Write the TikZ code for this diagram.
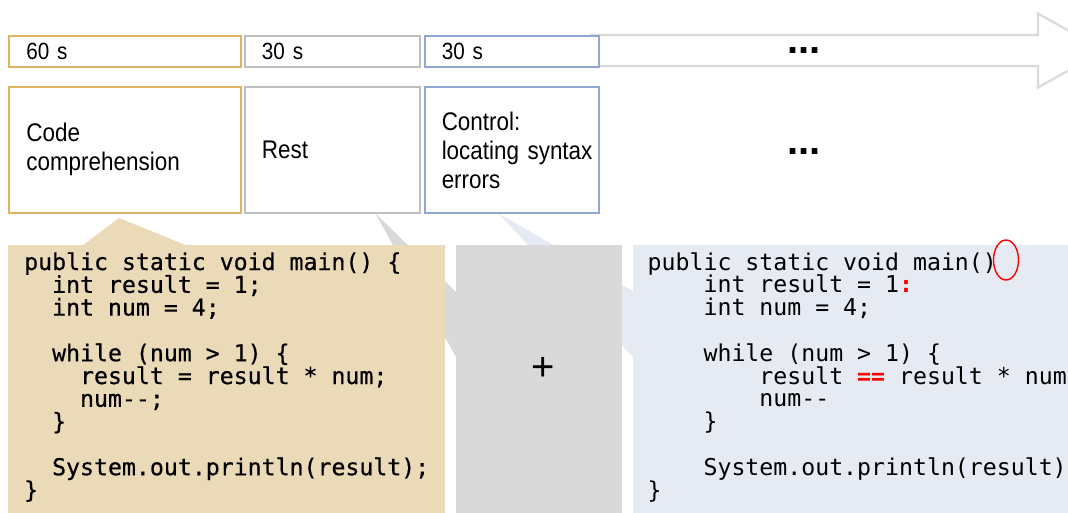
\documentclass[tikz,border=0pt]{standalone}
\usepackage{fontspec}
\usetikzlibrary{shapes.geometric}

% fonts: narrow sans for the labels, mono for the code listings
\newfontfamily\labfont[FakeStretch=0.88]{Liberation Sans}
\newfontfamily\symfont{Liberation Sans}
\newfontfamily\codefont{DejaVu Sans Mono}
\newfontfamily\codefontb[FakeBold=0.6]{DejaVu Sans Mono}

% one column of the mono font
\newlength\cw
\setlength\cw{13.968pt}
\newcommand\ind[1]{\hspace*{#1\cw}}
\newcommand\dd{\hbox{-}\hbox{-}}
\newcommand\codesetup{\fontsize{23.2}{22.8}\selectfont\baselineskip=22.8pt\lineskiplimit=-100pt}

\definecolor{goldline}{HTML}{DEB462}
\definecolor{grayline}{HTML}{BFBFBF}
\definecolor{blueline}{HTML}{8FA6D4}
\definecolor{tanfill}{HTML}{EBDAB7}
\definecolor{grayfill}{HTML}{D9D9D9}
\definecolor{bluefill}{HTML}{E6EAF3}
\definecolor{arrowgray}{HTML}{DADADA}

\tikzset{
  tbox/.style={draw, line width=2.1pt, fill=white, anchor=north west,
    inner xsep=17pt, inner ysep=0pt, minimum width=#1, text width=#1-34pt,
    align=left},
  timebox/.style={tbox=#1, minimum height=31.2pt,
    font=\labfont\fontsize{23.5}{27}\selectfont},
  taskbox/.style={tbox=#1, minimum height=125.7pt,
    font=\labfont\fontsize{25.5}{29}\selectfont},
  panel/.style={draw=none, anchor=north west, inner sep=0pt, minimum height=280pt},
  codetext/.style={anchor=base west, inner sep=0pt},
  dots/.style={font=\symfont\bfseries\fontsize{40}{40}\selectfont, inner sep=0pt},
  timeline/.style={draw=arrowgray, line width=2.2pt, line join=miter},
}

\begin{document}
\begin{tikzpicture}[x=1pt, y=-1pt]
\useasboundingbox (0,0) rectangle (1068,512);
\clip (0,0) rectangle (1068,512);

% timeline arrow behind the time slots
\draw[timeline] (590,35) -- (1038,35) -- (1038,13.5) -- (1104,50.5)
  -- (1038,87.5) -- (1038,66) -- (590,66);

% callout wedges from the task boxes to the panels
\fill[grayfill] (375,213) -- (456,292) -- (456,357) -- cycle;
\fill[bluefill] (498,213) -- (633,291) -- (633,357) -- cycle;
\fill[tanfill] (82,246) -- (119,218) -- (188,246) -- cycle;

% time slots
\node[timebox=232pt, draw=goldline] (t1) at (8.3,34.5) {60 s};
\node[timebox=174.6pt, draw=grayline] (t2) at (243.9,34.5) {30 s};
\node[timebox=174pt, draw=blueline] (t3) at (423.7,34.5) {30 s};
\node[dots] (tdots) at (804,50.5) {...};

% task boxes
\node[taskbox=232pt, draw=goldline] (b1) at (8.3,86) {\mbox{Code}\\\mbox{comprehension}};
\node[taskbox=174.6pt, draw=grayline] (b2) at (243.9,86) {Rest};
\node[taskbox=174pt, draw=blueline] (b3) at (423.7,86) {\mbox{Control:}\\\mbox{locating syntax}\\\mbox{errors}};
\node[dots] (bdots) at (804,151.7) {...};

% panels
\node[panel, fill=tanfill, minimum width=437pt] (pA) at (8,245) {};
\node[panel, fill=grayfill, minimum width=166pt] (pB) at (456,245) {};
\node[panel, fill=bluefill, minimum width=440pt] (pC) at (633,245) {};

% comprehension snippet
\node[codetext] (codeA) at (24,270) {\vtop{\codefontb\codesetup
  \hbox{public static void main() \{}
  \hbox{\ind{2}int result = 1;}
  \hbox{\ind{2}int num = 4;}
  \hbox{}
  \hbox{\ind{2}while (num > 1) \{}
  \hbox{\ind{4}result = result * num;}
  \hbox{\ind{4}num\dd;}
  \hbox{\ind{2}\}}
  \hbox{}
  \hbox{\ind{2}System.out.println(result);}
  \hbox{\}}}};

\node[font=\symfont\fontsize{40}{40}\selectfont, inner sep=0pt] (plus) at (543,369) {+};

% snippet with syntax errors
\node[codetext] (codeC) at (647.5,270) {\vtop{\codefont\codesetup
  \hbox{public static void main()}
  \hbox{\ind{4}int result = 1{\bfseries\color{red}:}}
  \hbox{\ind{4}int num = 4;}
  \hbox{}
  \hbox{\ind{4}while (num > 1) \{}
  \hbox{\ind{8}result {\bfseries\color{red}==} result * num}
  \hbox{\ind{8}num\dd}
  \hbox{\ind{4}\}}
  \hbox{}
  \hbox{\ind{4}System.out.println(result)}
  \hbox{\}}}};

\node[ellipse, draw=red, line width=1.4pt, minimum width=25pt, minimum height=40pt,
  inner sep=0pt] (err) at (1006,260) {};
\end{tikzpicture}
\end{document}
